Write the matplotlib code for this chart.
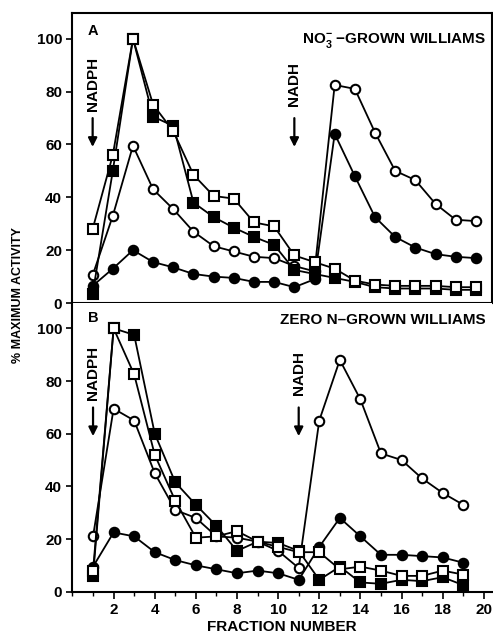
import matplotlib
matplotlib.use('Agg')
import matplotlib.pyplot as plt
from matplotlib.ticker import MultipleLocator

plt.rcParams['font.family'] = ['Liberation Sans', 'DejaVu Sans']
plt.rcParams['font.weight'] = 'bold'
plt.rcParams['mathtext.fontset'] = 'custom'
plt.rcParams['mathtext.rm'] = 'Liberation Sans:bold'
plt.rcParams['mathtext.bf'] = 'Liberation Sans:bold'

# panel A: NO3- grown, fractions 1..20
fractions_a = list(range(1, 21))
open_sq_a = [28, 56, 100, 75, 65, 48.5, 40.5, 39.5, 30.5, 29, 18, 15.5, 13, 8.5, 7, 6.5, 6.5, 6.5, 6, 6]
filled_sq_a = [3.5, 50, 100, 70.5, 67, 38, 32.5, 28.5, 25, 22, 12.5, 11, 9.5, 8, 6, 5.5, 5.5, 5.5, 5, 5]
open_circ_a = [10.5, 33, 59.5, 43, 35.5, 27, 21.5, 19.5, 17.5, 17, 14, 12, 82.5, 81, 64.5, 50, 46.5, 37.5, 31.5, 31]
filled_circ_a = [6.5, 13, 20, 15.5, 13.5, 11, 10, 9.5, 8, 8, 6, 9, 64, 48, 32.5, 25, 21, 18.5, 17.5, 17]

# panel B: zero N grown, fractions 1..19
fractions_b = list(range(1, 20))
filled_sq_b = [6, 100, 97.5, 60, 41.5, 33, 25, 15.5, 19, 18.5, 15.5, 4.5, 9.5, 3.5, 3, 4.5, 4, 5.5, 2.5]
open_sq_b = [8, 100, 82.5, 52, 34.5, 20.5, 21, 23, 19, 17, 15, 15, 8.5, 9.5, 8, 6, 6, 8, 6.5]
open_circ_b = [21, 69.5, 65, 45, 31, 28, 21, 20.5, 19, 15.5, 9, 65, 88, 73, 52.5, 50, 43, 37.5, 33]
filled_circ_b = [9.5, 22.5, 21, 15, 12, 10, 8.5, 7, 8, 7, 4.5, 17, 28, 21, 14, 14, 13.5, 13, 11]

y_ticks = [0, 20, 40, 60, 80, 100]
x_ticks = [2, 4, 6, 8, 10, 12, 14, 16, 18, 20]

fig = plt.figure(figsize=(4.93, 6.38), dpi=100)
ax_a = fig.add_axes([0.147, 0.525, 0.851, 0.455])
ax_b = fig.add_axes([0.147, 0.0726, 0.851, 0.4524])


def draw_series(ax, x, y, marker, filled):
    face = 'black' if filled else 'white'
    ax.plot(x, y, color='black', lw=1.3, marker=marker, markersize=6.8,
            markerfacecolor=face, markeredgecolor='black', markeredgewidth=1.5)


for ax, xs, series in [
    (ax_a, fractions_a, [(filled_circ_a, 'o', True), (open_circ_a, 'o', False),
                         (filled_sq_a, 's', True), (open_sq_a, 's', False)]),
    (ax_b, fractions_b, [(filled_circ_b, 'o', True), (open_circ_b, 'o', False),
                         (filled_sq_b, 's', True), (open_sq_b, 's', False)]),
]:
    for vals, m, f in series:
        draw_series(ax, xs, vals, m, f)
    ax.set_yticks(y_ticks)
    ax.tick_params(axis='y', direction='out', length=4, width=1.2, labelsize=11)
    for s in ax.spines.values():
        s.set_linewidth(1.5)
    # arrows and labels
    for xpos, lab in [(1, 'NADPH'), (11, 'NADH')]:
        ax.annotate('', xy=(xpos, 58), xytext=(xpos, 71),
                    arrowprops=dict(arrowstyle='-|>', lw=1.6, color='black', mutation_scale=13))
        ax.text(xpos, 83, lab, rotation=90, ha='center', va='center', fontsize=11, fontweight='bold')

ax_a.set_xlim(0, 20.8)
ax_a.set_ylim(0, 109.8)
ax_a.set_xticks([])
ax_a.text(1, 103, 'A', ha='center', va='center', fontsize=10.5, fontweight='bold')
ax_a.text(0.985, 0.905, r'NO$_{\mathbf{3}}^{\mathbf{-}}$ $-$GROWN WILLIAMS', transform=ax_a.transAxes,
          ha='right', va='center', fontsize=11, fontweight='bold')

ax_b.set_xlim(0, 20.4)
ax_b.set_ylim(0, 109.6)
ax_b.spines['right'].set_visible(False)
ax_b.spines['top'].set_visible(False)
ax_b.set_xticks(x_ticks)
ax_b.xaxis.set_minor_locator(MultipleLocator(1))
ax_b.tick_params(axis='x', which='major', direction='out', length=5, width=1.2, labelsize=11)
ax_b.tick_params(axis='x', which='minor', direction='out', length=3, width=1.0)
ax_b.text(1, 104, 'B', ha='center', va='center', fontsize=10.5, fontweight='bold')
ax_b.text(0.985, 0.94, 'ZERO N\u2013GROWN WILLIAMS', transform=ax_b.transAxes,
          ha='right', va='center', fontsize=11, fontweight='bold')
ax_b.set_xlabel('FRACTION NUMBER', fontsize=11, fontweight='bold', labelpad=2)

fig.text(0.036, 0.537, '% MAXIMUM ACTIVITY', rotation=90, ha='center', va='center',
         fontsize=9, fontweight='bold')

fig.savefig('out.png', dpi=100)
